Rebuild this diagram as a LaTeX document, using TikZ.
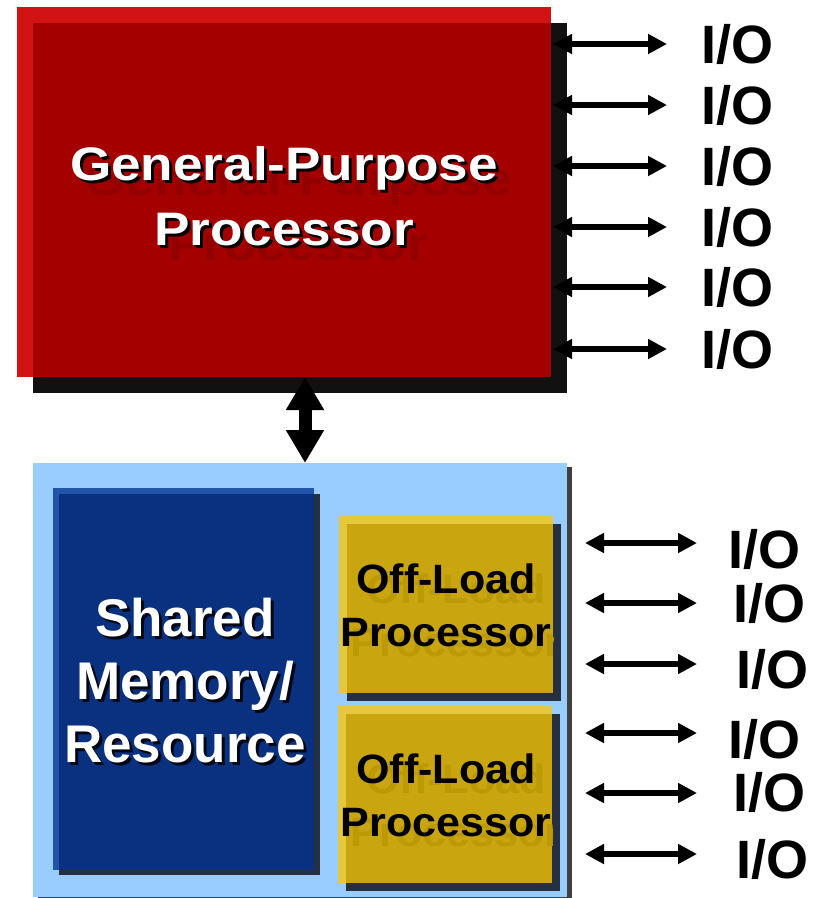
\documentclass[tikz,border=0pt]{standalone}
\usepackage{fontspec}
\setmainfont{Liberation Sans}
\newfontfamily\gppfont[FakeStretch=1.13]{Liberation Sans}
\newfontfamily\olpfont[FakeStretch=1.05]{Liberation Sans}
\usetikzlibrary{arrows.meta}

\definecolor{gppLight}{HTML}{D11313}
\definecolor{gppDark}{HTML}{A50000}
\definecolor{gppGhost}{HTML}{930000}
\definecolor{gppShade}{HTML}{111111}
\definecolor{sysBlue}{HTML}{99CCFF}
\definecolor{sysShade}{HTML}{404040}
\definecolor{memLight}{HTML}{2255AA}
\definecolor{memDark}{HTML}{0A3080}
\definecolor{navyShade}{HTML}{263040}
\definecolor{olpLight}{HTML}{E5C93A}
\definecolor{olpDark}{HTML}{C9A50F}
\definecolor{olpGhost}{HTML}{BC9A05}

\begin{document}
\begin{tikzpicture}[x=1pt,y=-1pt,
  plain/.style={inner sep=0pt, outer sep=0pt, draw=none},
  gpptext/.style={font=\gppfont\bfseries\fontsize{47}{65}\selectfont, align=center, inner sep=0pt},
  memtext/.style={font=\bfseries\fontsize{53}{63}\selectfont, align=center, inner sep=0pt},
  olptext/.style={font=\olpfont\bfseries\fontsize{41}{53}\selectfont, align=center, inner sep=0pt},
  io/.style={font=\bfseries\fontsize{54}{54}\selectfont, inner sep=0pt, anchor=west},
  ioarrow/.style={line width=5.5pt, arrows={Triangle[length=19pt,width=19pt]-Triangle[length=19pt,width=19pt]}},
  bus/.style={line width=13pt, arrows={Triangle[length=33pt,width=36pt]-Triangle[length=33pt,width=36pt]}},
]
\useasboundingbox (0,0) rectangle (819,898);

% general-purpose processor block
\fill[gppShade] (33,23) rectangle (567,393);
\fill[gppLight] (17,7) rectangle (551,377);
\node[plain, fill=gppDark, minimum width=518pt, minimum height=354pt] (gpp) at (292,200) {};
\begin{scope}
  \clip (33,23) rectangle (551,377);
  \node[gpptext, text=gppGhost] (gppEcho) at (298,211) {General-Purpose\\Processor};
\end{scope}
\node[gpptext, text=black] (gppDrop) at (287,199) {General-Purpose\\Processor};
\node[gpptext, text=white] (gppLabel) at (284,196) {General-Purpose\\Processor};

% system block holding memory and off-load engines
\fill[sysShade] (38,467) rectangle (572,902);
\node[plain, fill=sysBlue, minimum width=534pt, minimum height=434pt] (sys) at (300,680) {};

% shared memory
\fill[navyShade] (59,494) rectangle (320,875);
\fill[memLight] (53,488) rectangle (314,870);
\node[plain, fill=memDark, minimum width=255pt, minimum height=376pt] (mem) at (186.5,682) {};
\node[memtext, text=black!85!memDark] (memDrop) at (188,684) {Shared\\Memory/\\Resource};
\node[memtext, text=white] (memLabel) at (185,681) {Shared\\Memory/\\Resource};

% off-load processor 1
\fill[navyShade] (347,524) rectangle (561,701);
\fill[olpLight] (339,516) rectangle (553,693);
\node[plain, fill=olpDark, minimum width=206pt, minimum height=169pt] (olp1) at (450,608.5) {};
\begin{scope}
  \clip (347,524) rectangle (553,693);
  \node[olptext, text=olpGhost] (olp1Echo) at (456,615) {Off-Load\\Processor};
\end{scope}
\node[olptext, text=black] (olp1Label) at (446,605.5) {Off-Load\\Processor};

% off-load processor 2
\fill[navyShade] (346,714) rectangle (560,891);
\fill[olpLight] (338,706) rectangle (552,883);
\node[plain, fill=olpDark, minimum width=206pt, minimum height=169pt] (olp2) at (449,798.5) {};
\begin{scope}
  \clip (346,714) rectangle (552,883);
  \node[olptext, text=olpGhost] (olp2Echo) at (456,805) {Off-Load\\Processor};
\end{scope}
\node[olptext, text=black] (olp2Label) at (446,795.5) {Off-Load\\Processor};

% bus between processor and system block
\draw[bus] ([xshift=13pt]gpp.south) -- ([xshift=5pt]sys.north);

% processor I/O ports
\foreach \y/\n in {45/1,106/2,167/3,228/4,288/5,350/6}{
  \node[io] (tio\n) at (701,\y-1) {I/O};
  \draw[ioarrow] ([xshift=2pt]gpp.east |- tio\n.west) -- ([xshift=-34pt]tio\n.west);
}

% off-load I/O ports
\foreach \ay/\ly/\lx/\n in {543/549/728/1,603/603/733/2,664/669/736/3,733/739/728/4,793/792/733/5,854/859/736/6}{
  \coordinate (bioL\n) at (585,\ay);
  \coordinate (bioR\n) at (697,\ay);
  \node[io] (bio\n) at (\lx,\ly) {I/O};
  \draw[ioarrow] (bioL\n) -- (bioR\n);
}
\end{tikzpicture}
\end{document}
